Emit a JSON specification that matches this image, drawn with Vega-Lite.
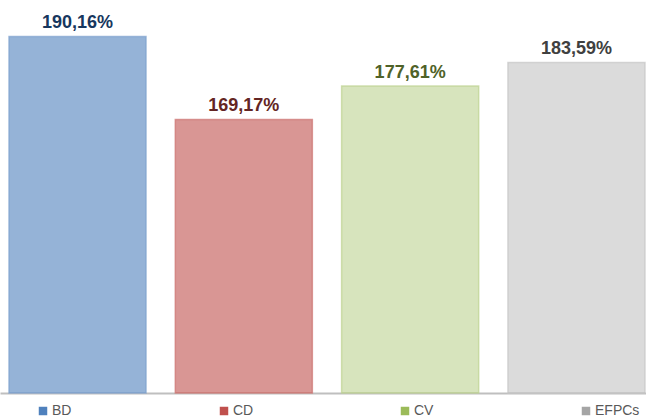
{
  "$schema": "https://vega.github.io/schema/vega-lite/v6.json",
  "width": 646,
  "height": 393,
  "autosize": {"type": "none"},
  "padding": {"left": 0, "top": 0, "right": 0, "bottom": 25},
  "background": "white",
  "config": {
    "view": {"stroke": null},
    "locale": {"number": {"decimal": ",", "thousands": ".", "grouping": [3], "currency": ["", " €"]}}
  },
  "data": {
    "values": [
      {"cat": "BD", "value": 1.9016},
      {"cat": "CD", "value": 1.6917},
      {"cat": "CV", "value": 1.7761},
      {"cat": "EFPCs", "value": 1.8359}
    ]
  },
  "encoding": {
    "x": {
      "field": "cat",
      "type": "nominal",
      "sort": ["BD", "CD", "CV", "EFPCs"],
      "scale": {"paddingInner": 0.176, "paddingOuter": 0.03, "align": 0.9},
      "axis": {"title": null, "labels": false, "ticks": false, "domain": true, "domainColor": "#BFBFBF", "domainWidth": 2}
    },
    "y": {
      "field": "value",
      "type": "quantitative",
      "scale": {"domain": [1.0, 1.9937], "zero": false, "nice": false},
      "axis": null
    }
  },
  "layer": [
    {
      "mark": {"type": "bar", "strokeWidth": 1.5, "strokeOpacity": 0.7},
      "encoding": {
        "y2": {"datum": 1.0},
        "color": {
          "field": "cat",
          "type": "nominal",
          "scale": {"domain": ["BD", "CD", "CV", "EFPCs"], "range": ["#4F81BD", "#C0504D", "#9BBB59", "#A5A5A5"]},
          "legend": {
            "title": null,
            "orient": "none",
            "legendX": 36,
            "legendY": 404,
            "direction": "horizontal",
            "columns": 4,
            "gridAlign": "all",
            "columnPadding": 120,
            "symbolType": "square",
            "symbolSize": 72,
            "symbolStrokeWidth": 0,
            "symbolOpacity": 1,
            "labelFont": "Liberation Sans",
            "labelFontSize": 14,
            "labelColor": "#595959",
            "labelOffset": 2
          }
        },
        "fillOpacity": {
          "condition": {"test": "datum.cat === 'BD' || datum.cat === 'CD'", "value": 0.6},
          "value": 0.4
        },
        "stroke": {
          "condition": [
            {"test": "datum.cat === 'BD'", "value": "#7FA2CE"},
            {"test": "datum.cat === 'CD'", "value": "#CD7370"},
            {"test": "datum.cat === 'CV'", "value": "#BCD18E"}
          ],
          "value": "#C4C4C4"
        }
      }
    },
    {
      "mark": {"type": "text", "dy": -8, "baseline": "alphabetic", "font": "Liberation Sans", "fontSize": 18, "fontWeight": "bold"},
      "encoding": {
        "text": {"field": "value", "type": "quantitative", "format": ".2%"},
        "color": {
          "condition": [
            {"test": "datum.cat === 'BD'", "value": "#17375E"},
            {"test": "datum.cat === 'CD'", "value": "#632523"},
            {"test": "datum.cat === 'CV'", "value": "#4F6228"}
          ],
          "value": "#404040"
        }
      }
    }
  ]
}
